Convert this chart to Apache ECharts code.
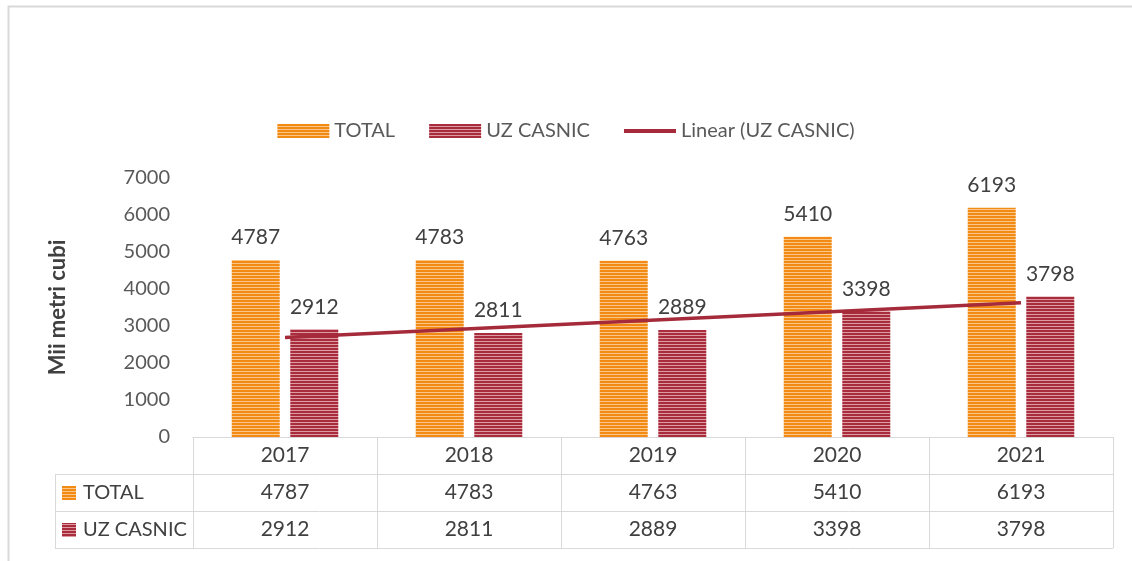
<!DOCTYPE html>
<html>
<head>
<meta charset="utf-8">
<script src="https://cdn.jsdelivr.net/npm/echarts@6/dist/echarts.min.js"></script>
<style>
  html, body { margin: 0; padding: 0; background: #fff; }
  #main { width: 1132px; height: 561px; }
</style>
</head>
<body>
<div id="main"></div>
<script>
// date
const years = ['2017', '2018', '2019', '2020', '2021'];
const total = [4787, 4783, 4763, 5410, 6193];
const uzCasnic = [2912, 2811, 2889, 3398, 3798];
// capetele liniei de trend
const trend = [2690, null, null, null, 3630];
const seriesNames = ['TOTAL', 'UZ CASNIC', 'Linear (UZ CASNIC)'];

const font = 'Lato, "Open Sans", sans-serif';

// dungi orizontale pentru bare
function stripes(dark, light) {
  let c = document.createElement('canvas');
  c.width = 4;
  c.height = 3;
  let ctx = c.getContext('2d');
  ctx.fillStyle = dark;
  ctx.fillRect(0, 0, 4, 2);
  ctx.fillStyle = light;
  ctx.fillRect(0, 2, 4, 1);
  return { image: c, repeat: 'repeat' };
}
const orange = stripes('#f38a14', '#f9c68c');
const red = stripes('#a82c3c', '#dc9aa3');

let chart = echarts.init(document.getElementById('main'));

let option = {
  animation: false,
  textStyle: { fontFamily: font },
  grid: { left: 193, right: 19, top: 178, bottom: 124 },
  legend: {
    top: 116,
    left: 'center',
    itemWidth: 52,
    itemHeight: 14,
    itemGap: 34,
    textStyle: { fontSize: 20, color: '#595959', fontFamily: font },
    data: [
      { name: seriesNames[0], icon: 'rect' },
      { name: seriesNames[1], icon: 'rect' },
      { name: seriesNames[2], icon: 'path://M0,0L52,0L52,4L0,4Z' }
    ]
  },
  xAxis: {
    type: 'category',
    data: years,
    axisLine: { lineStyle: { color: '#d9d9d9', width: 1 } },
    axisTick: { show: true, length: 111, lineStyle: { color: '#d9d9d9', width: 1 } },
    axisLabel: {
      interval: 0,
      margin: 0,
      formatter: function (val, i) {
        return '{v|' + val + '}\n{v|' + total[i] + '}\n{v|' + uzCasnic[i] + '}';
      },
      rich: {
        v: { fontSize: 21, color: '#404040', lineHeight: 37, fontFamily: font }
      }
    }
  },
  yAxis: {
    type: 'value',
    min: 0,
    max: 7000,
    interval: 1000,
    name: 'Mii metri cubi',
    nameLocation: 'middle',
    nameGap: 124,
    nameTextStyle: { fontSize: 22, fontWeight: 'bold', color: '#404040', fontFamily: font },
    axisLine: { show: false },
    axisTick: { show: false },
    splitLine: { show: false },
    axisLabel: {
      margin: 23,
      fontSize: 20,
      color: '#595959',
      fontFamily: font,
      formatter: function (v) { return String(v); }
    }
  },
  series: [
    {
      name: seriesNames[0],
      type: 'bar',
      data: total,
      barWidth: 48,
      barGap: '22%',
      itemStyle: { color: orange },
      label: { show: true, position: 'top', distance: 12, fontSize: 21, color: '#404040', fontFamily: font }
    },
    {
      name: seriesNames[1],
      type: 'bar',
      data: uzCasnic,
      barWidth: 48,
      itemStyle: { color: red },
      label: { show: true, position: 'top', distance: 12, fontSize: 21, color: '#404040', fontFamily: font }
    },
    {
      name: seriesNames[2],
      type: 'line',
      data: trend,
      connectNulls: true,
      symbol: 'none',
      itemStyle: { color: '#a52a3a' },
      lineStyle: { color: '#a52a3a', width: 3.5 },
      z: 5
    }
  ],
  graphic: [
    // rama
    { type: 'rect', shape: { x: 8.5, y: 6.5, width: 1200, height: 600 }, style: { fill: 'none', stroke: '#d9d9d9', lineWidth: 2 }, silent: true },
    // liniile tabelului
    { type: 'line', shape: { x1: 55, y1: 474.5, x2: 1113, y2: 474.5 }, style: { stroke: '#d9d9d9', lineWidth: 1 } },
    { type: 'line', shape: { x1: 55, y1: 511.5, x2: 1113, y2: 511.5 }, style: { stroke: '#d9d9d9', lineWidth: 1 } },
    { type: 'line', shape: { x1: 55, y1: 548.5, x2: 1113, y2: 548.5 }, style: { stroke: '#d9d9d9', lineWidth: 1 } },
    { type: 'line', shape: { x1: 55.5, y1: 474, x2: 55.5, y2: 548 }, style: { stroke: '#d9d9d9', lineWidth: 1 } },
    // cheile legendei din tabel
    { type: 'rect', shape: { x: 62, y: 486, width: 14, height: 14 }, style: { fill: orange } },
    { type: 'rect', shape: { x: 62, y: 523, width: 14, height: 14 }, style: { fill: red } },
    { type: 'text', x: 83, y: 493, style: { text: seriesNames[0], fontSize: 20, fill: '#404040', fontFamily: font, verticalAlign: 'middle' } },
    { type: 'text', x: 83, y: 530, style: { text: seriesNames[1], fontSize: 20, fill: '#404040', fontFamily: font, verticalAlign: 'middle' } }
  ]
};

option && chart.setOption(option);
</script>
</body>
</html>
